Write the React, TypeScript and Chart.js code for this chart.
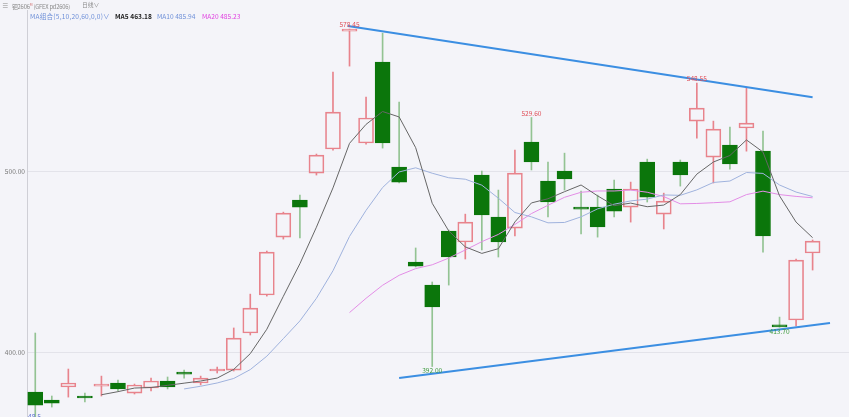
import { useEffect, useRef } from "react";
import { Chart, registerables } from "chart.js";

Chart.register(...registerables);

// Daily candles, 钯2606 (GFEX pd2606)
const OPEN = [
  377.9, 373.5, 380.7, 374.9, 381.2, 382.9, 377.3, 380.1, 384.0, 388.4,
  382.9, 389.5, 390.0, 410.5, 431.5, 463.5, 484.0, 498.9, 512.2, 577.3,
  515.5, 560.2, 502.2, 449.7, 437.0, 466.9, 460.8, 497.8, 474.6, 468.5,
  516.0, 494.5, 500.0, 480.1, 480.1, 490.1, 480.1, 505.0, 476.2, 505.0,
  527.6, 507.7, 514.4, 523.8, 511.0, 414.5, 417.7, 454.7,
];
const HIGH = [
  410.5, 375.7, 390.6, 377.3, 386.7, 384.5, 382.3, 385.6, 386.2, 390.0,
  386.7, 391.7, 413.3, 432.0, 455.8, 477.3, 486.7, 509.4, 554.7, 578.45,
  540.9, 576.2, 538.1, 457.5, 438.7, 467.4, 476.2, 500.0, 489.5, 511.6,
  529.6, 505.0, 509.9, 489.0, 486.7, 495.0, 493.9, 506.6, 487.8, 506.1,
  548.55, 527.6, 524.3, 545.9, 522.1, 419.3, 451.4, 461.9,
];
const LOW = [
  360.0, 369.6, 375.1, 372.4, 375.7, 378.5, 376.8, 378.5, 379.6, 385.6,
  381.8, 388.4, 389.5, 409.4, 430.9, 462.4, 463.0, 497.8, 511.6, 558.0,
  514.9, 512.7, 493.5, 447.0, 392.0, 437.0, 451.4, 456.4, 452.5, 464.1,
  500.6, 474.6, 489.5, 465.2, 463.5, 474.6, 471.8, 482.9, 468.0, 491.7,
  518.2, 493.4, 501.1, 511.0, 455.2, 413.7, 414.4, 445.3,
];
const CLOSE = [
  370.7, 371.8, 382.9, 374.6, 381.8, 379.6, 381.8, 384.0, 380.7, 387.8,
  385.6, 390.0, 407.7, 424.3, 455.2, 476.8, 480.1, 508.8, 532.6, 578.3,
  529.3, 515.5, 493.9, 447.5, 424.9, 452.5, 471.8, 475.7, 460.8, 498.9,
  505.0, 482.9, 495.6, 479.0, 469.1, 477.9, 490.1, 485.6, 483.4, 497.8,
  534.8, 523.2, 503.9, 526.5, 464.1, 413.9, 450.8, 461.3,
];

// Moving averages, each starting at its first full window
const MA5_START = 4;
const MA5 = [
  376.4, 378.1, 380.1, 380.4, 381.6, 382.8, 384.0, 385.6, 390.4, 399.1,
  412.6, 430.8, 448.8, 469.0, 490.7, 515.3, 525.8, 532.9, 529.9, 512.9,
  482.2, 466.9, 458.1, 454.5, 457.1, 471.9, 482.4, 484.7, 488.6, 492.3,
  486.3, 480.9, 482.3, 480.3, 481.2, 487.0, 498.3, 505.0, 508.6, 517.2,
  510.5, 486.3, 471.8, 463.18,
];
const MA10_START = 9;
const MA10 = [
  379.6, 381.1, 382.9, 385.4, 390.3, 397.7, 407.4, 417.2, 429.7, 444.9,
  463.9, 478.3, 490.9, 499.5, 501.8, 498.8, 496.3, 495.5, 492.2, 485.0,
  477.1, 474.7, 471.4, 471.6, 474.7, 479.1, 481.7, 483.5, 484.5, 486.8,
  486.6, 489.6, 493.7, 494.5, 499.2, 498.7, 492.3, 488.4, 485.94,
];
const MA20_START = 19;
const MA20 = [
  421.8, 429.7, 436.9, 442.4, 446.1, 448.2, 451.9, 456.4, 461.0, 465.0,
  470.5, 476.5, 481.1, 485.5, 488.3, 489.0, 489.0, 489.5, 488.3, 485.9,
  481.9, 482.1, 482.5, 483.0, 487.0, 488.9, 487.0, 486.0, 485.23,
];

// Hand-drawn trend lines: [candle index, price]
const UPPER_TREND = [
  { x: 18.9, y: 580.2 },
  { x: 47.0, y: 540.8 },
];
const LOWER_TREND = [
  { x: 22.0, y: 385.6 },
  { x: 48.05, y: 416.0 },
];

// Extremes annotated with their price
const MARKED = [
  { i: 19, kind: "high" },
  { i: 30, kind: "high" },
  { i: 40, kind: "high" },
  { i: 24, kind: "low" },
  { i: 45, kind: "low" },
];

const Y_TICKS = [400, 500];
const Y_MIN = 364.1;
const Y_MAX = 589.0;
const X_MIN = -0.5;
const X_MAX = 49.2;

const BG = "#f4f4f9";
const UP = "#e8838c";
const UP_LABEL = "#e0505a";
const DOWN = "#0b760b";
const DOWN_WICK = "#93c393";
const DOWN_LABEL = "#3c9a3c";
const MA5_COLOR = "#666666";
const MA10_COLOR = "#9fb2dd";
const MA20_COLOR = "#e38de6";
const TREND_COLOR = "#3b8ee2";
const FONT = '"Noto Sans CJK SC", "Liberation Sans", sans-serif';

const maPoints = (start: number, arr: number[]) =>
  arr.map((v, k) => ({ x: start + k, y: v }));

const isUp = (i: number) => CLOSE[i] >= OPEN[i];

const markLabels = {
  id: "markLabels",
  afterDatasetsDraw(chart: any) {
    const { ctx, chartArea, scales } = chart;
    ctx.save();
    ctx.beginPath();
    ctx.rect(chartArea.left, chartArea.top, chartArea.right - chartArea.left, chartArea.bottom - chartArea.top);
    ctx.clip();
    ctx.font = `6.6px ${FONT}`;
    ctx.textAlign = "center";
    for (const m of MARKED) {
      const x = scales.x.getPixelForValue(m.i);
      if (m.kind === "high") {
        const v = HIGH[m.i];
        ctx.fillStyle = UP_LABEL;
        ctx.textBaseline = "bottom";
        ctx.fillText(v.toFixed(2), x, scales.y.getPixelForValue(v) - 1);
      } else {
        const v = LOW[m.i];
        ctx.fillStyle = DOWN_LABEL;
        ctx.textBaseline = "top";
        ctx.fillText(v.toFixed(2), x, scales.y.getPixelForValue(v) + 1);
      }
    }
    ctx.restore();
  },
};

export default function App() {
  const canvasRef = useRef<HTMLCanvasElement | null>(null);

  useEffect(() => {
    const canvas = canvasRef.current;
    if (!canvas) return;
    const idx = OPEN.map((_, i) => i);

    const bodies = idx.map((i) => ({ x: i, y: [OPEN[i], CLOSE[i]] }));
    const upperWicks = idx.map((i) => ({ x: i, y: [Math.max(OPEN[i], CLOSE[i]), HIGH[i]] }));
    const lowerWicks = idx.map((i) => ({ x: i, y: [LOW[i], Math.min(OPEN[i], CLOSE[i])] }));
    const wickColors = idx.map((i) => (isUp(i) ? UP : DOWN_WICK));

    const chart = new Chart(canvas, {
      type: "bar",
      data: {
        datasets: [
          {
            type: "line",
            label: "MA5",
            data: maPoints(MA5_START, MA5),
            borderColor: MA5_COLOR,
            borderWidth: 1,
            pointRadius: 0,
            order: 1,
          },
          {
            type: "line",
            label: "MA10",
            data: maPoints(MA10_START, MA10),
            borderColor: MA10_COLOR,
            borderWidth: 1,
            pointRadius: 0,
            order: 2,
          },
          {
            type: "line",
            label: "MA20",
            data: maPoints(MA20_START, MA20),
            borderColor: MA20_COLOR,
            borderWidth: 1,
            pointRadius: 0,
            order: 3,
          },
          {
            type: "line",
            label: "upper",
            data: UPPER_TREND,
            borderColor: TREND_COLOR,
            borderWidth: 2,
            pointRadius: 0,
            order: 0,
          },
          {
            type: "line",
            label: "lower",
            data: LOWER_TREND,
            borderColor: TREND_COLOR,
            borderWidth: 2,
            pointRadius: 0,
            order: 0,
          },
          {
            type: "bar",
            label: "upper wick",
            data: upperWicks as any,
            backgroundColor: wickColors,
            barThickness: 1,
            grouped: false,
            order: 6,
          },
          {
            type: "bar",
            label: "lower wick",
            data: lowerWicks as any,
            backgroundColor: wickColors,
            barThickness: 1,
            grouped: false,
            order: 6,
          },
          {
            type: "bar",
            label: "body",
            data: bodies as any,
            backgroundColor: idx.map((i) => (isUp(i) ? "rgba(0,0,0,0)" : DOWN)),
            borderColor: idx.map((i) => (isUp(i) ? UP : DOWN)),
            borderWidth: 1,
            borderSkipped: false,
            barThickness: 15,
            minBarLength: 2,
            grouped: false,
            order: 5,
          },
        ],
      },
      options: {
        responsive: false,
        animation: false,
        devicePixelRatio: 1,
        layout: { padding: { top: 10, right: 0, bottom: 0, left: 0 } },
        plugins: {
          legend: { display: false },
          tooltip: { enabled: false },
        },
        scales: {
          x: {
            type: "linear",
            min: X_MIN,
            max: X_MAX,
            offset: false,
            display: false,
          },
          y: {
            type: "linear",
            position: "left",
            min: Y_MIN,
            max: Y_MAX,
            afterBuildTicks: (axis: any) => {
              axis.ticks = Y_TICKS.map((v) => ({ value: v }));
            },
            afterFit: (axis: any) => {
              axis.width = 27;
              axis.paddingTop = 0;
              axis.paddingBottom = 0;
            },
            grid: { color: "#e3e3ea", drawTicks: false },
            border: { display: true, color: "#cfcfd6" },
            ticks: {
              padding: 2,
              color: "#7a7a7a",
              font: { size: 6.6, family: FONT },
              callback: (v: any) => Number(v).toFixed(2),
            },
          },
        },
      },
      plugins: [markLabels],
    });
    return () => chart.destroy();
  }, []);

  const ma5 = MA5[MA5.length - 1].toFixed(2);
  const ma10 = MA10[MA10.length - 1].toFixed(2);
  const ma20 = MA20[MA20.length - 1].toFixed(2);
  const txt = (left: number, top: number, color: string, extra: any = {}) => ({
    position: "absolute" as const,
    left,
    top,
    color,
    fontSize: "6.6px",
    lineHeight: "8px",
    whiteSpace: "nowrap" as const,
    fontFamily: FONT,
    ...extra,
  });

  return (
    <div
      style={{
        position: "fixed",
        left: 0,
        top: 0,
        width: 849,
        height: 417,
        overflow: "hidden",
        background: BG,
      }}
    >
      <canvas ref={canvasRef} width={849} height={417} style={{ display: "block" }} />
      <span style={txt(2, 1, "#8a8a8a")}>≡</span>
      <span style={txt(12, 1, "#8a8a8a", { fontSize: "5.8px", letterSpacing: "-0.2px" })}>
        钯2606<sup style={{ fontSize: "3.5px", color: "#d07070" }}>M</sup> (GFEX pd2606)
      </span>
      <span style={txt(82, 1, "#8a8a8a", { fontSize: "5.8px" })}>日线∨</span>
      <span style={txt(30, 12, "#6d8fd8", { letterSpacing: "0.2px" })}>MA组合(5,10,20,60,0,0)∨</span>
      <span style={txt(115, 12, "#222", { fontWeight: 700 })}>MA5 {ma5}</span>
      <span style={txt(157, 12, "#6d8fd8")}>MA10 {ma10}</span>
      <span style={txt(202, 12, "#e040e0")}>MA20 {ma20}</span>
      <span style={txt(28, 412, "#5a6fd0")}>48.5</span>
    </div>
  );
}
